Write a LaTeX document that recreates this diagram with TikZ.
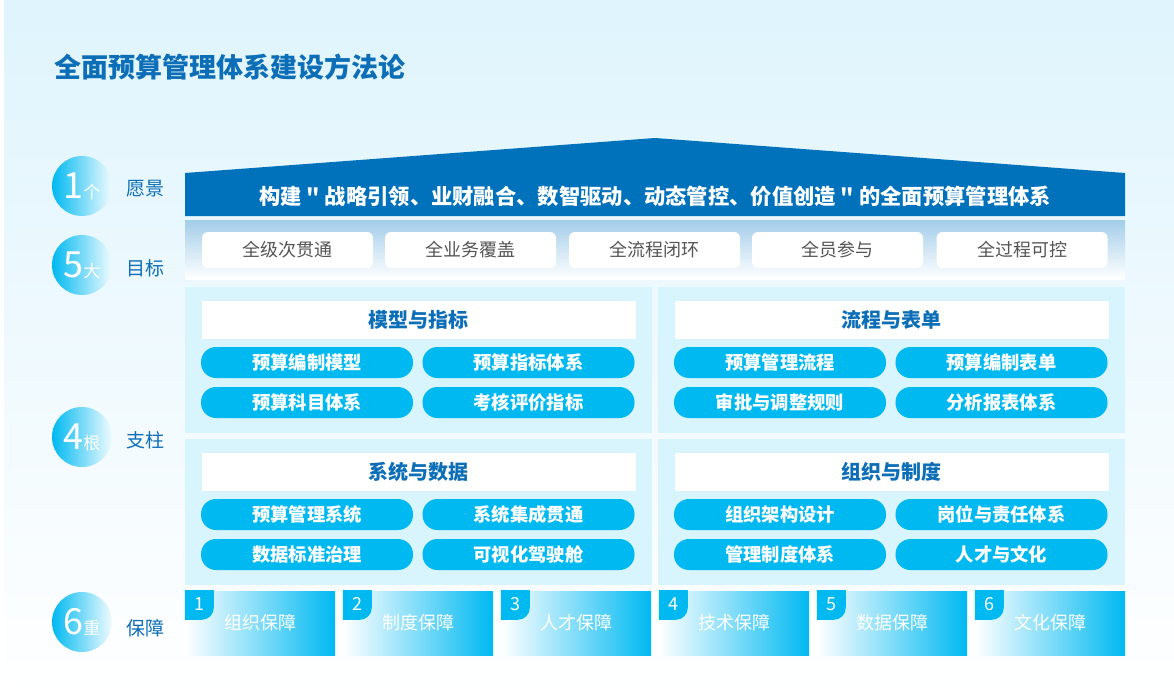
\documentclass[tikz,border=0pt]{standalone}
\usepackage{fontspec}
\setmainfont{Noto Sans CJK SC}
\newfontfamily\plaincjk{Noto Sans CJK SC}
\definecolor{roofblue}{HTML}{0071BB}
\definecolor{titleblue}{HTML}{0C6EB7}
\definecolor{skyblue}{HTML}{00B9F1}
\definecolor{panelblue}{HTML}{D8F4FD}
\definecolor{bandtop}{HTML}{A3CDE9}
\definecolor{bgtop}{HTML}{DFF4FD}
\definecolor{goalgray}{HTML}{555555}
\tikzset{
        title/.style={text=titleblue, inner sep=0pt, font=\bfseries\fontsize{27}{27}\selectfont},
        badge/.style={circle, minimum size=60pt, inner sep=0pt, left color=skyblue, right color=skyblue!6!white, text=white},
        sidelabel/.style={text=titleblue, inner sep=0pt, font=\fontsize{19}{19}\selectfont},
        rooftext/.style={text=white, inner sep=0pt, font=\plaincjk\bfseries\fontsize{21.3}{21.3}\selectfont},
        goalbox/.style={fill=white, rounded corners=6pt, minimum width=171pt, minimum height=36pt, inner sep=0pt, text=goalgray, font=\fontsize{18}{18}\selectfont},
        panel/.style={fill=panelblue, minimum width=467pt, minimum height=146pt, inner sep=0pt},
        header/.style={fill=white, minimum width=434pt, minimum height=38pt, inner sep=0pt, text=titleblue, font=\bfseries\fontsize{20}{20}\selectfont},
        pill/.style={fill=skyblue, rounded corners=15pt, minimum width=212pt, minimum height=31pt, inner sep=0pt, text=white, font=\bfseries\fontsize{18.3}{18.3}\selectfont},
        guard/.style={left color=white, right color=skyblue, minimum width=150pt, minimum height=64pt, inner sep=0pt, text=white, font=\fontsize{18}{18}\selectfont},
        tabnum/.style={text=white, inner sep=0pt, font=\fontsize{18}{18}\selectfont}
          }
\begin{document}
\begin{tikzpicture}[x=1pt, y=-1pt]
            \useasboundingbox (0,0) rectangle (1174,693);
            \shade[top color=bgtop, bottom color=white] (0,0) rectangle (1174,693);
            \fill[white] (0,0) rectangle (4,693);

            \node[title, anchor=west] (title) at (54,67) {全面预算管理体系建设方法论};

            \node[badge] (one) at (82,186) {{\fontsize{36}{36}\selectfont 1}\fontsize{17}{17}\selectfont 个};
            \node[badge] (five) at (82,265) {{\fontsize{36}{36}\selectfont 5}\fontsize{17}{17}\selectfont 大};
            \node[badge] (four) at (82,437) {{\fontsize{36}{36}\selectfont 4}\fontsize{17}{17}\selectfont 根};
            \node[badge] (six) at (82,622) {{\fontsize{36}{36}\selectfont 6}\fontsize{17}{17}\selectfont 重};
            \node[sidelabel] (vision) at (145,189) {愿景};
            \node[sidelabel] (goals) at (145,268) {目标};
            \node[sidelabel] (pillars) at (145,440) {支柱};
            \node[sidelabel] (guards) at (145,628) {保障};

            \fill[roofblue] (185,216) -- (185,173) -- (655,138) -- (1125,173) -- (1125,216) -- cycle;
            \node[rooftext] (roof) at (655,196) {构建 " 战略引领、业财融合、数智驱动、动态管控、价值创造 " 的全面预算管理体系};

            \shade[top color=bandtop, bottom color=white] (185,220) rectangle (1125,279);
            \node[goalbox] (goalA) at (287.5,250) {全级次贯通};
            \node[goalbox] (goalB) at (470.5,250) {全业务覆盖};
            \node[goalbox] (goalC) at (654.5,250) {全流程闭环};
            \node[goalbox] (goalD) at (837.5,250) {全员参与};
            \node[goalbox] (goalE) at (1022,250) {全过程可控};

            \node[panel] (model) at (418.5,360) {};
            \node[header] (modelhead) at (418.5,320) {模型与指标};
            \node[pill] (modelA) at (307,362.5) {预算编制模型};
            \node[pill] (modelB) at (528.5,362.5) {预算指标体系};
            \node[pill] (modelC) at (307,402.5) {预算科目体系};
            \node[pill] (modelD) at (528.5,402.5) {考核评价指标};

            \node[panel] (flow) at (891.5,360) {};
            \node[header] (flowhead) at (891.5,320) {流程与表单};
            \node[pill] (flowA) at (780,362.5) {预算管理流程};
            \node[pill] (flowB) at (1001.5,362.5) {预算编制表单};
            \node[pill] (flowC) at (780,402.5) {审批与调整规则};
            \node[pill] (flowD) at (1001.5,402.5) {分析报表体系};

            \node[panel] (sys) at (418.5,512) {};
            \node[header] (syshead) at (418.5,472) {系统与数据};
            \node[pill] (sysA) at (307,514.5) {预算管理系统};
            \node[pill] (sysB) at (528.5,514.5) {系统集成贯通};
            \node[pill] (sysC) at (307,554.5) {数据标准治理};
            \node[pill] (sysD) at (528.5,554.5) {可视化驾驶舱};

            \node[panel] (org) at (891.5,512) {};
            \node[header] (orghead) at (891.5,472) {组织与制度};
            \node[pill] (orgA) at (780,514.5) {组织架构设计};
            \node[pill] (orgB) at (1001.5,514.5) {岗位与责任体系};
            \node[pill] (orgC) at (780,554.5) {管理制度体系};
            \node[pill] (orgD) at (1001.5,554.5) {人才与文化};

            \node[guard] (g1) at (260,623) {组织保障};
            \node[guard] (g2) at (418,623) {制度保障};
            \node[guard] (g3) at (576,623) {人才保障};
            \node[guard] (g4) at (734,623) {技术保障};
            \node[guard] (g5) at (892,623) {数据保障};
            \node[guard] (g6) at (1050,623) {文化保障};

            \begin{scope}
              \clip (g1.north west) rectangle ++(29,29);
              \fill[skyblue, rounded corners=12pt] (g1.north west) ++(-12,-12) rectangle ++(41,41);
            \end{scope}
            \begin{scope}
              \clip (g2.north west) rectangle ++(29,29);
              \fill[skyblue, rounded corners=12pt] (g2.north west) ++(-12,-12) rectangle ++(41,41);
            \end{scope}
            \begin{scope}
              \clip (g3.north west) rectangle ++(29,29);
              \fill[skyblue, rounded corners=12pt] (g3.north west) ++(-12,-12) rectangle ++(41,41);
            \end{scope}
            \begin{scope}
              \clip (g4.north west) rectangle ++(29,29);
              \fill[skyblue, rounded corners=12pt] (g4.north west) ++(-12,-12) rectangle ++(41,41);
            \end{scope}
            \begin{scope}
              \clip (g5.north west) rectangle ++(29,29);
              \fill[skyblue, rounded corners=12pt] (g5.north west) ++(-12,-12) rectangle ++(41,41);
            \end{scope}
            \begin{scope}
              \clip (g6.north west) rectangle ++(29,29);
              \fill[skyblue, rounded corners=12pt] (g6.north west) ++(-12,-12) rectangle ++(41,41);
            \end{scope}
            \node[tabnum] (n1) at ([shift={(14.5,13.5)}]g1.north west) {1};
            \node[tabnum] (n2) at ([shift={(14.5,13.5)}]g2.north west) {2};
            \node[tabnum] (n3) at ([shift={(14.5,13.5)}]g3.north west) {3};
            \node[tabnum] (n4) at ([shift={(14.5,13.5)}]g4.north west) {4};
            \node[tabnum] (n5) at ([shift={(14.5,13.5)}]g5.north west) {5};
            \node[tabnum] (n6) at ([shift={(14.5,13.5)}]g6.north west) {6};
          \end{tikzpicture}
\end{document}
